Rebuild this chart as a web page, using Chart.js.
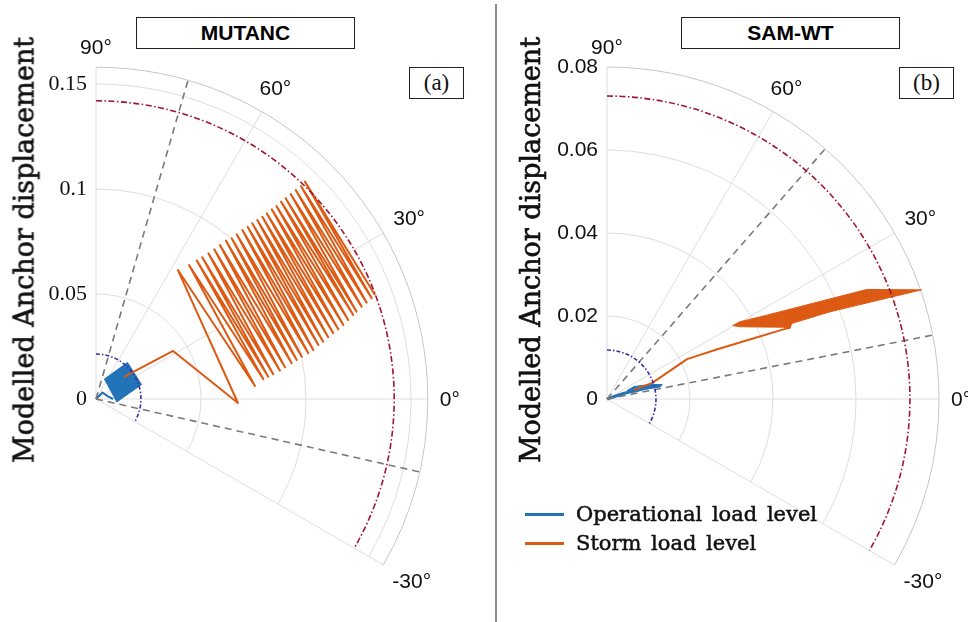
<!DOCTYPE html>
<html>
<head>
<meta charset="utf-8">
<script src="https://cdn.jsdelivr.net/npm/chart.js@4.4.0/dist/chart.umd.min.js"></script>
<style>
body { margin: 0; background: #fff; }
#page { position: relative; width: 968px; height: 622px; overflow: hidden; }
canvas { position: absolute; top: 0; }
.box { position: absolute; border: 1px solid #222; box-sizing: border-box; text-align: center; background: #fff; }
.title { font: bold 21px "Liberation Sans", Arial, sans-serif; line-height: 29px; color: #000; }
.tag { font: 23px "Liberation Serif", serif; line-height: 29px; color: #111; }
.ylab { position: absolute; font: 27px "DejaVu Serif", serif; line-height: 27px; white-space: nowrap; color: #111;
        -webkit-text-stroke: 0.6px #111; transform: translate(-50%, -50%) rotate(-90deg); }
.divider { position: absolute; left: 495px; top: 4px; width: 2px; height: 618px; background: #8c8c8c; }
.legline { position: absolute; left: 525px; width: 39px; height: 3px; }
.legtext { position: absolute; left: 576px; font: 21px "DejaVu Serif", serif; line-height: 24px; word-spacing: 3px;
           color: #111; -webkit-text-stroke: 0.5px #111; white-space: nowrap; }
</style>
</head>
<body>
<div id="page">
  <canvas id="chartA" width="484" height="622" style="left:0"></canvas>
  <canvas id="chartB" width="484" height="622" style="left:484px"></canvas>

  <div class="box title" style="left:136px; top:17px; width:219px; height:32px;">MUTANC</div>
  <div class="box tag" style="left:409px; top:67px; width:55px; height:32px;">(a)</div>
  <div class="box title" style="left:681px; top:17px; width:219px; height:32px;">SAM-WT</div>
  <div class="box tag" style="left:899px; top:67px; width:55px; height:32px;">(b)</div>

  <div class="ylab" style="left:24px; top:250px;">Modelled Anchor displacement</div>
  <div class="ylab" style="left:530px; top:250px;">Modelled Anchor displacement</div>
  <div class="divider"></div>

  <div class="legline" style="top:513px; background:#2373b8;"></div>
  <div class="legtext" style="top:502px;">Operational load level</div>
  <div class="legline" style="top:542px; background:#dc5a14;"></div>
  <div class="legtext" style="top:531px;">Storm load level</div>
</div>

<script>
// angular axis (degrees)
const angleTicks = [-30, 0, 30, 60, 90];
const angleLabels = ['-30°', '0°', '30°', '60°', '90°'];

// ---- (a) MUTANC ----
const mutancRadTicks = [0, 0.05, 0.1, 0.15];
const mutancRadLabels = ['0', '0.05', '0.1', '0.15'];
const mutancRMax = 0.158;
const mutancStormLimit = 0.142;
const mutancOperLimit = 0.0214;
const mutancDashDirs = [73.9, -12.7];
// trajectories as [x, y] displacement components
const mutancOperational = [[0, 0], [0.0031, 0.0031], [0.0055, 0.0014], [0.0081, 0.0000]];
const mutancOperationalBlock = [[0.0150, 0.0174], [0.0217, 0.0069], [0.0099, -0.0014], [0.0040, 0.0095], [0.0150, 0.0174]];
const mutancStorm = [
  [0.0133, 0.0105], [0.0367, 0.0229], [0.0676, -0.0019],
  [0.0390, 0.0614], [0.0757, 0.0062], [0.0443, 0.0638], [0.0797, 0.0094],
  [0.0480, 0.0659], [0.0820, 0.0106], [0.0506, 0.0675], [0.0844, 0.0118],
  [0.0535, 0.0694], [0.0876, 0.0135], [0.0563, 0.0713], [0.0900, 0.0151],
  [0.0590, 0.0733], [0.0932, 0.0170], [0.0619, 0.0754], [0.0956, 0.0186],
  [0.0646, 0.0765], [0.0980, 0.0201], [0.0670, 0.0784], [0.1011, 0.0218],
  [0.0697, 0.0805], [0.1035, 0.0233], [0.0722, 0.0820], [0.1059, 0.0257],
  [0.0744, 0.0837], [0.1082, 0.0273], [0.0768, 0.0852], [0.1106, 0.0294],
  [0.0792, 0.0868], [0.1130, 0.0313], [0.0813, 0.0884], [0.1154, 0.0332],
  [0.0837, 0.0903], [0.1178, 0.0352], [0.0859, 0.0919], [0.1201, 0.0376],
  [0.0881, 0.0940], [0.1225, 0.0400], [0.0903, 0.0956], [0.1241, 0.0416],
  [0.0927, 0.0976], [0.1265, 0.0440], [0.0951, 0.0995], [0.1289, 0.0459],
  [0.0976, 0.1014], [0.1313, 0.0480], [0.0995, 0.1035], [0.1329, 0.0495]
];

// ---- (b) SAM-WT ----
const samRadTicks = [0, 0.02, 0.04, 0.06, 0.08];
const samRadLabels = ['0', '0.02', '0.04', '0.06', '0.08'];
const samRMax = 0.08;
const samStormLimit = 0.073;
const samOperLimit = 0.0118;
const samDashDirs = [48.9, 11.1];
const samOperational = [[0, 0], [0.0036, 0.0012], [0.0080, 0.0024]];
const samOperationalBlock = [[0.0048, 0.0020], [0.0065, 0.0030], [0.0104, 0.0035], [0.0133, 0.0035],
  [0.0128, 0.0029], [0.0092, 0.0023], [0.0063, 0.0016], [0.0048, 0.0020]];
const samStorm = [[0.0065, 0.0022], [0.0109, 0.0039], [0.0193, 0.0096], [0.0266, 0.0120],
  [0.0346, 0.0144], [0.0419, 0.0166], [0.0441, 0.0172]];
const samStormBlock = [[0.0303, 0.0177], [0.0320, 0.0186], [0.0385, 0.0202], [0.0626, 0.0264],
  [0.0758, 0.0263], [0.0537, 0.0210], [0.0445, 0.0182], [0.0441, 0.0170], [0.0425, 0.0173],
  [0.0320, 0.0174], [0.0303, 0.0177]];

const BLUE = '#2373b8';
const ORANGE = '#dc5a14';

const toXY = arr => arr.map(p => ({ x: p[0], y: p[1] }));
const rad = d => d * Math.PI / 180;

function geom(chart) {
  const xs = chart.scales.x, ys = chart.scales.y;
  const cx = xs.getPixelForValue(0), cy = ys.getPixelForValue(0);
  return { cx, cy, k: xs.getPixelForValue(1) - cx };
}

function sector(ctx, g, r) {
  ctx.beginPath();
  ctx.arc(g.cx, g.cy, r * g.k, -rad(angleTicks[angleTicks.length - 1]), -rad(angleTicks[0]));
  ctx.stroke();
}

const polarDecor = {
  id: 'polarDecor',
  beforeDatasetsDraw(chart, args, o) {
    const ctx = chart.ctx, g = geom(chart);
    ctx.save();
    ctx.lineWidth = 1;
    ctx.strokeStyle = '#dddddd';
    o.rings.forEach(r => sector(ctx, g, r));
    angleTicks.forEach(a => {
      ctx.beginPath();
      ctx.moveTo(g.cx, g.cy);
      ctx.lineTo(g.cx + Math.cos(rad(a)) * o.rMax * g.k, g.cy - Math.sin(rad(a)) * o.rMax * g.k);
      ctx.stroke();
    });
    ctx.strokeStyle = '#c6c6c6';
    sector(ctx, g, o.rMax);
    ctx.restore();
  },
  afterDatasetsDraw(chart, args, o) {
    const ctx = chart.ctx, g = geom(chart);
    ctx.save();
    // direction lines
    ctx.strokeStyle = '#7a7a7a';
    ctx.lineWidth = 1.6;
    ctx.setLineDash([7, 5]);
    o.dirs.forEach(a => {
      ctx.beginPath();
      ctx.moveTo(g.cx, g.cy);
      ctx.lineTo(g.cx + Math.cos(rad(a)) * o.rMax * g.k, g.cy - Math.sin(rad(a)) * o.rMax * g.k);
      ctx.stroke();
    });
    // limit circles
    ctx.lineWidth = 1.6;
    ctx.setLineDash([6, 2.5, 1.5, 2.5]);
    ctx.strokeStyle = '#a2142f';
    sector(ctx, g, o.stormLimit);
    ctx.setLineDash([4, 2, 1.5, 2]);
    ctx.strokeStyle = '#3a2f9e';
    sector(ctx, g, o.operLimit);
    ctx.setLineDash([]);
    // radial tick labels
    ctx.fillStyle = '#111';
    ctx.font = o.radFont;
    ctx.textAlign = 'right';
    ctx.textBaseline = 'middle';
    o.radTicks.forEach((t, i) => ctx.fillText(o.radLabels[i], g.cx - 9, g.cy - t * g.k));
    // angle labels
    ctx.font = '21px "Liberation Sans", Arial, sans-serif';
    ctx.textAlign = 'center';
    angleTicks.forEach((a, i) => {
      const w = ctx.measureText(angleLabels[i]).width;
      const d = o.rMax * g.k + 12 + Math.abs(Math.cos(rad(a))) * w / 2 + Math.abs(Math.sin(rad(a))) * 8;
      ctx.fillText(angleLabels[i], g.cx + Math.cos(rad(a)) * d, g.cy - Math.sin(rad(a)) * d + 1);
    });
    ctx.restore();
  }
};

function makePanel(id, layout, decor, datasets) {
  const W = 484, H = 622;
  return new Chart(document.getElementById(id), {
    type: 'line',
    data: { datasets },
    options: {
      responsive: false,
      animation: false,
      events: [],
      layout: { padding: 0, autoPadding: false },
      scales: {
        x: { type: 'linear', display: false, min: -layout.ox / layout.k, max: (W - layout.ox) / layout.k },
        y: { type: 'linear', display: false, min: -(H - layout.oy) / layout.k, max: layout.oy / layout.k }
      },
      elements: { point: { radius: 0 }, line: { tension: 0, borderJoinStyle: 'round' } },
      plugins: { legend: { display: false }, tooltip: { enabled: false }, polarDecor: decor }
    },
    plugins: [polarDecor]
  });
}

makePanel('chartA', { ox: 96, oy: 399, k: 2100 }, {
  rings: [0.05, 0.1, 0.15], rMax: mutancRMax,
  radTicks: mutancRadTicks, radLabels: mutancRadLabels, radFont: '22px "Liberation Serif", serif',
  stormLimit: mutancStormLimit, operLimit: mutancOperLimit, dirs: mutancDashDirs
}, [
  { label: 'Storm load level', data: toXY(mutancStorm), borderColor: ORANGE, borderWidth: 2, fill: false, order: 0 },
  { label: 'Operational load level', data: toXY(mutancOperational), borderColor: BLUE, borderWidth: 2, fill: false, order: 1 },
  { label: 'Operational load level (oscillation)', data: toXY(mutancOperationalBlock), borderColor: BLUE, backgroundColor: BLUE, borderWidth: 1, fill: 'shape', order: 2 }
]);

makePanel('chartB', { ox: 123, oy: 399, k: 4150 }, {
  rings: [0.02, 0.04, 0.06], rMax: samRMax,
  radTicks: samRadTicks, radLabels: samRadLabels, radFont: '21px "Liberation Sans", Arial, sans-serif',
  stormLimit: samStormLimit, operLimit: samOperLimit, dirs: samDashDirs
}, [
  { label: 'Storm load level', data: toXY(samStorm), borderColor: ORANGE, borderWidth: 2, fill: false, order: 0 },
  { label: 'Storm load level (oscillation)', data: toXY(samStormBlock), borderColor: ORANGE, backgroundColor: ORANGE, borderWidth: 1, fill: 'shape', order: 1 },
  { label: 'Operational load level', data: toXY(samOperational), borderColor: BLUE, borderWidth: 3, fill: false, order: 2 },
  { label: 'Operational load level (oscillation)', data: toXY(samOperationalBlock), borderColor: BLUE, backgroundColor: BLUE, borderWidth: 1, fill: 'shape', order: 3 }
]);
</script>
</body>
</html>
